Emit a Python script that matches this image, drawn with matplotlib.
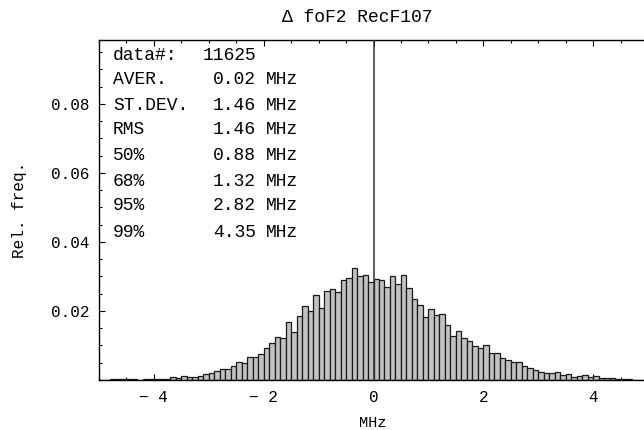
import numpy as np
import matplotlib
matplotlib.use("Agg")
import matplotlib.pyplot as plt
from matplotlib.ticker import MultipleLocator

# ---- data ----
bin_width = 0.1
bin_left = np.round(np.arange(-5.0, 5.0, bin_width), 1)
rel_freq = [
    0.0000, 0.0001, 0.0002, 0.0004, 0.0003, 0.0003, 0.0002, 0.0001, 0.0004, 0.0004,
    0.0003, 0.0002, 0.0003, 0.0010, 0.0007, 0.0012, 0.0008, 0.0010, 0.0011, 0.0018,
    0.0021, 0.0027, 0.0032, 0.0032, 0.0042, 0.0051, 0.0048, 0.0066, 0.0066, 0.0075,
    0.0092, 0.0107, 0.0124, 0.0122, 0.0167, 0.0138, 0.0184, 0.0215, 0.0200, 0.0246,
    0.0208, 0.0257, 0.0264, 0.0256, 0.0291, 0.0296, 0.0324, 0.0300, 0.0304, 0.0285,
    0.0293, 0.0290, 0.0270, 0.0301, 0.0278, 0.0303, 0.0266, 0.0235, 0.0216, 0.0182,
    0.0206, 0.0187, 0.0190, 0.0160, 0.0128, 0.0143, 0.0123, 0.0114, 0.0099, 0.0092,
    0.0100, 0.0078, 0.0078, 0.0065, 0.0059, 0.0053, 0.0053, 0.0040, 0.0034, 0.0029,
    0.0022, 0.0020, 0.0020, 0.0023, 0.0015, 0.0016, 0.0010, 0.0012, 0.0015, 0.0008,
    0.0011, 0.0006, 0.0006, 0.0005, 0.0003, 0.0004, 0.0003, 0.0001, 0.0001, 0.0000,
]
stat_labels = ["data#:", "AVER.", "ST.DEV.", "RMS", "50%", "68%", "95%", "99%"]
stat_values = ["11625", "0.02", "1.46", "1.46", "0.88", "1.32", "2.82", "4.35"]
stat_units = ["", "MHz", "MHz", "MHz", "MHz", "MHz", "MHz", "MHz"]
x_ticks = [-4, -2, 0, 2, 4]
x_ticklabels = ["\u2212 4", "\u2212 2", "0", "2", "4"]
y_ticks = [0.02, 0.04, 0.06, 0.08]
y_ticklabels = ["0.02", "0.04", "0.06", "0.08"]
title = "\u0394 foF2 RecF107"
xlabel = "MHz"
ylabel = "Rel. freq."

FONT = ["Liberation Mono", "DejaVu Sans Mono"]
plt.rcParams["font.family"] = FONT

W, H = 644, 430
fig = plt.figure(figsize=(W / 100, H / 100), dpi=100)
left, right, top, bottom = 99, 648, 40, 380
ax = fig.add_axes([left / W, 1 - bottom / H, (right - left) / W, (bottom - top) / H])

ax.bar(bin_left, rel_freq, width=bin_width, align="edge",
       facecolor="#c2c2c2", edgecolor="#1a1a1a", linewidth=0.9, zorder=2)
ax.axvline(0, color="#333333", linewidth=1.1, zorder=3)

ax.set_xlim(-5, 5)
ax.set_ylim(0, 0.0985)

ax.set_xticks(x_ticks)
ax.set_xticklabels(x_ticklabels, fontsize=11.5)
ax.set_yticks(y_ticks)
ax.set_yticklabels(y_ticklabels, fontsize=11.5)
ax.xaxis.set_minor_locator(MultipleLocator(0.5))
ax.yaxis.set_minor_locator(MultipleLocator(0.005))
ax.tick_params(which="both", direction="in", top=True, right=False, color="black")
ax.tick_params(which="major", length=4.5, width=0.8, pad=7)
ax.tick_params(which="minor", length=2.5, width=0.8)

for s in ["left", "bottom", "top"]:
    ax.spines[s].set_linewidth(1.0)
ax.spines["right"].set_visible(False)

fig.text(357 / W, 1 - 18 / H, title, ha="center", va="center", fontsize=13)
fig.text(373 / W, 1 - 423 / H, xlabel, ha="center", va="center", fontsize=11)
fig.text(20 / W, 1 - 210 / H, ylabel, ha="center", va="center", rotation=90, fontsize=11.5)

row_y = [55, 80, 105, 130, 155, 181, 206, 232]
for lab, val, unit, yy in zip(stat_labels, stat_values, stat_units, row_y):
    fig.text(113 / W, 1 - yy / H, lab, ha="left", va="center", fontsize=13)
    fig.text(256 / W, 1 - yy / H, val, ha="right", va="center", fontsize=13)
    if unit:
        fig.text(266 / W, 1 - yy / H, unit, ha="left", va="center", fontsize=13)

fig.savefig("out.png", dpi=100)
